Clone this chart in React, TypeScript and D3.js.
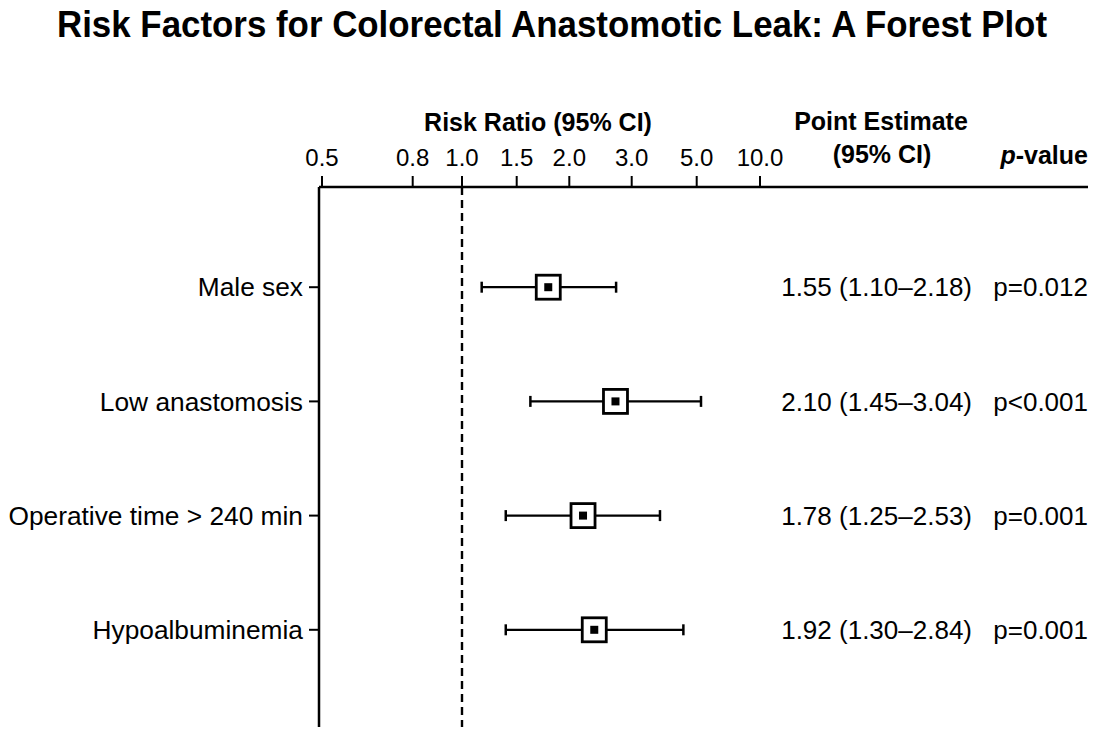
import React from 'react';
import * as d3 from 'd3';

// Row labels and the printed statistics
const factors = ['Male sex', 'Low anastomosis', 'Operative time > 240 min', 'Hypoalbuminemia'];
const estimates = [1.55, 2.10, 1.78, 1.92];
const ciLower = [1.10, 1.45, 1.25, 1.30];
const ciUpper = [2.18, 3.04, 2.53, 2.84];
const pValues = ['p=0.012', 'p<0.001', 'p=0.001', 'p=0.001'];

// Where the markers sit on the drawn axis
const plotEstimate = [1.80, 2.74, 2.22, 2.40];
const plotLower = [1.18, 1.63, 1.40, 1.40];
const plotUpper = [2.75, 5.34, 3.87, 4.59];

// Axis ticks
const tickValues = [0.5, 0.8, 1.0, 1.5, 2.0, 3.0, 5.0, 10.0];

const WIDTH = 1100;
const HEIGHT = 737;
const FONT = '"Liberation Sans", Arial, Helvetica, sans-serif';

const App = () => {
    const axisX = 319;
    const axisTop = 187;
    const axisBottom = 727;
    const axisRight = 1088;

    // The printed axis is not evenly logarithmic, so map each tick to its drawn spot
    const tickX = [322, 412.7, 462, 516.7, 569.3, 631.7, 696.7, 760];
    const x = d3.scaleLinear().domain(tickValues).range(tickX);

    const y = d3.scalePoint<string>()
        .domain(factors)
        .range([173, 744])
        .padding(1);

    const fmt = d3.format('.1f');
    const box = 24;
    const inner = 8;
    const cap = 5.5;

    return (
        <svg
            width={WIDTH}
            height={HEIGHT}
            viewBox={`0 0 ${WIDTH} ${HEIGHT}`}
            style={{ position: 'absolute', left: 0, top: 0, background: '#fff', display: 'block' }}
            fontFamily={FONT}
        >
            <rect width={WIDTH} height={HEIGHT} fill="#fff" />

            {/* Title */}
            <text
                x={552}
                y={37}
                textAnchor="middle"
                fontSize={36}
                fontWeight="bold"
                textLength={990}
                lengthAdjust="spacingAndGlyphs"
            >
                Risk Factors for Colorectal Anastomotic Leak: A Forest Plot
            </text>

            {/* Column headers */}
            <text x={538} y={131} textAnchor="middle" fontSize={25} fontWeight="bold">
                Risk Ratio (95% CI)
            </text>
            <text x={881} y={130} textAnchor="middle" fontSize={25} fontWeight="bold">
                Point Estimate
            </text>
            <text x={882} y={163} textAnchor="middle" fontSize={25} fontWeight="bold">
                (95% CI)
            </text>
            <text x={axisRight} y={164} textAnchor="end" fontSize={25} fontWeight="bold">
                <tspan fontStyle="italic">p</tspan>-value
            </text>

            {/* Top axis */}
            <line x1={axisX} x2={axisRight} y1={axisTop} y2={axisTop} stroke="#000" strokeWidth={2.5} />
            {tickValues.map(t => (
                <g key={t} transform={`translate(${x(t)},0)`}>
                    <line y1={axisTop - 11} y2={axisTop} stroke="#000" strokeWidth={2} />
                    <text y={166} textAnchor="middle" fontSize={24}>{fmt(t)}</text>
                </g>
            ))}

            {/* Left axis */}
            <line x1={axisX} x2={axisX} y1={axisTop} y2={axisBottom} stroke="#000" strokeWidth={2.5} />

            {/* Reference line at RR = 1 */}
            <line
                x1={x(1)}
                x2={x(1)}
                y1={axisTop}
                y2={axisBottom}
                stroke="#000"
                strokeWidth={2.4}
                strokeDasharray="8,5"
            />

            {/* Rows */}
            {factors.map((f, i) => {
                const cy = y(f) || 0;
                const cx = x(plotEstimate[i]);
                const estText = `${estimates[i].toFixed(2)} (${ciLower[i].toFixed(2)}\u2013${ciUpper[i].toFixed(2)})`;
                return (
                    <g key={f}>
                        <line x1={axisX - 10} x2={axisX} y1={cy} y2={cy} stroke="#000" strokeWidth={2} />
                        <text x={axisX - 16} y={cy} dy="0.35em" textAnchor="end" fontSize={26.3}>{f}</text>

                        <line x1={x(plotLower[i])} x2={x(plotUpper[i])} y1={cy} y2={cy} stroke="#000" strokeWidth={2.2} />
                        <line x1={x(plotLower[i])} x2={x(plotLower[i])} y1={cy - cap} y2={cy + cap} stroke="#000" strokeWidth={2.5} />
                        <line x1={x(plotUpper[i])} x2={x(plotUpper[i])} y1={cy - cap} y2={cy + cap} stroke="#000" strokeWidth={2.5} />

                        <rect
                            x={cx - box / 2}
                            y={cy - box / 2}
                            width={box}
                            height={box}
                            fill="#fff"
                            stroke="#000"
                            strokeWidth={2.8}
                        />
                        <rect x={cx - inner / 2} y={cy - inner / 2} width={inner} height={inner} fill="#000" />

                        <text x={972} y={cy} dy="0.35em" textAnchor="end" fontSize={26}>{estText}</text>
                        <text x={axisRight} y={cy} dy="0.35em" textAnchor="end" fontSize={26}>{pValues[i]}</text>
                    </g>
                );
            })}
        </svg>
    );
};

export default App;
